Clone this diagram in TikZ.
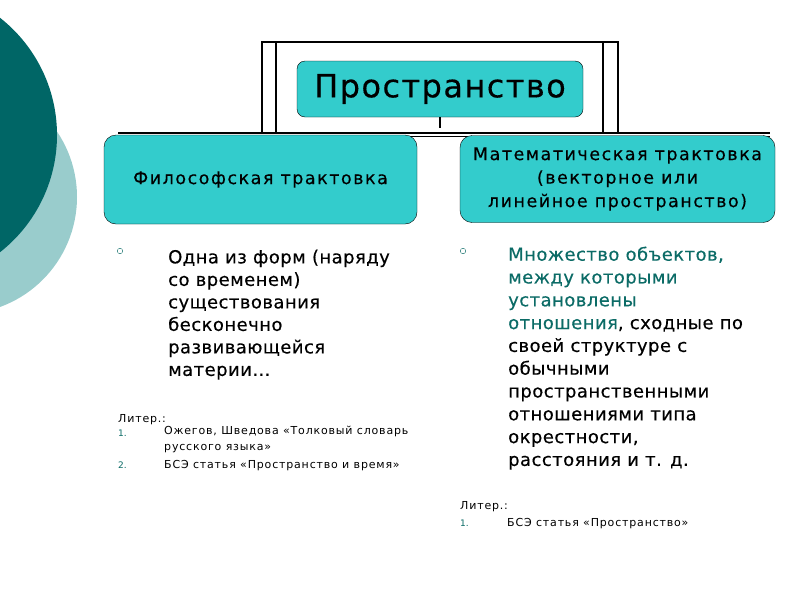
\documentclass[tikz,border=0pt]{standalone}
\usepackage{fontspec}
\setmainfont{DejaVu Sans}
\newfontfamily\titlefont[LetterSpace=4.5,FakeBold=0.3]{DejaVu Sans}
\newfontfamily\boxfont[LetterSpace=8.7,FakeBold=0.3]{DejaVu Sans}
\newfontfamily\bodyfont[LetterSpace=2.5,FakeBold=0.4]{DejaVu Sans}
\newfontfamily\litfont[LetterSpace=7.5]{DejaVu Sans}
\usetikzlibrary{positioning}
\definecolor{slcyan}{HTML}{33CCCC}
\definecolor{sldark}{HTML}{006666}
\definecolor{sllight}{HTML}{99CCCC}
\definecolor{slteal}{HTML}{0B6B66}

\begin{document}
\begin{tikzpicture}[x=1pt,y=-1pt,
    box/.style={draw,fill=slcyan,align=center,inner sep=0pt},
    body/.style={anchor=north west,align=left,inner sep=0pt},
    lit/.style={anchor=base west,inner sep=0pt,font=\litfont\fontsize{11}{16}\selectfont},
    num/.style={anchor=base west,inner sep=0pt,text=slteal,font=\fontsize{9}{10}\selectfont},
    bul/.style={circle,draw=slteal,thin,inner sep=0pt,minimum size=5.5pt},
    frame/.style={draw,line width=1.3pt}]
  \useasboundingbox (0,0) rectangle (800,600);
  % decoration on the left
  \fill[sllight] (-40,197) circle (117);
  \fill[sldark] (-92,135) circle (149);
  % frame behind the boxes
  \draw[frame] (262,134) |- (618,42) -- (618,134);
  \draw[frame] (276,42) -- (276,134) (603,42) -- (603,134);
  \draw[frame] (118,133) -- (770,133) (118,136.5) -- (770,136.5);
  \node[box,rounded corners=8pt,minimum width=286pt,minimum height=56pt,
    font=\titlefont\fontsize{32}{36}\selectfont] (space) at (440,89) {Пространство};
  \draw[frame] (space.south) -- ++(0,11);
  \node[box,rounded corners=12pt,minimum width=313pt,minimum height=89pt,
    font=\boxfont\fontsize{17.5}{23.5}\selectfont] (phil) at (260.5,179.5) {Философская трактовка};
  \node[box,rounded corners=12pt,minimum width=315pt,minimum height=87pt,
    font=\boxfont\fontsize{17.5}{23.5}\selectfont] (math) at (617.5,179)
    {Математическая трактовка\\(векторное или\\линейное пространство)};
  % left column
  \node[bul] (b1) at (120,251) {};
  \node[body,font=\bodyfont\fontsize{18}{22.5}\selectfont] (philtxt) at (168,249.5)
    {Одна из форм (наряду\\со временем)\\существования\\бесконечно\\развивающейся\\материи…};
  \node[lit] (lit1) at (118,422) {Литер.:};
  \node[num] (n11) at (118,436) {1.};
  \node[lit,align=left,anchor=north west] (ref11) at (164,425.5)
    {Ожегов, Шведова «Толковый словарь\\русского языка»};
  \node[num] (n12) at (118,468) {2.};
  \node[lit] (ref12) at (164,468) {БСЭ статья «Пространство и время»};
  % right column
  \node[bul] (b2) at (463,251) {};
  \node[body,font=\bodyfont\fontsize{18}{22.8}\selectfont] (mathtxt) at (508,246.5)
    {\textcolor{slteal}{Множество объектов,}\\\textcolor{slteal}{между которыми}\\
     \textcolor{slteal}{установлены}\\\textcolor{slteal}{отношения}, сходные по\\
     своей структуре с\\обычными\\пространственными\\отношениями типа\\
     окрестности,\\расстояния и т. д.};
  \node[lit] (lit2) at (460,509) {Литер.:};
  \node[num] (n21) at (460,526) {1.};
  \node[lit] (ref21) at (507,526) {БСЭ статья «Пространство»};
\end{tikzpicture}
\end{document}
